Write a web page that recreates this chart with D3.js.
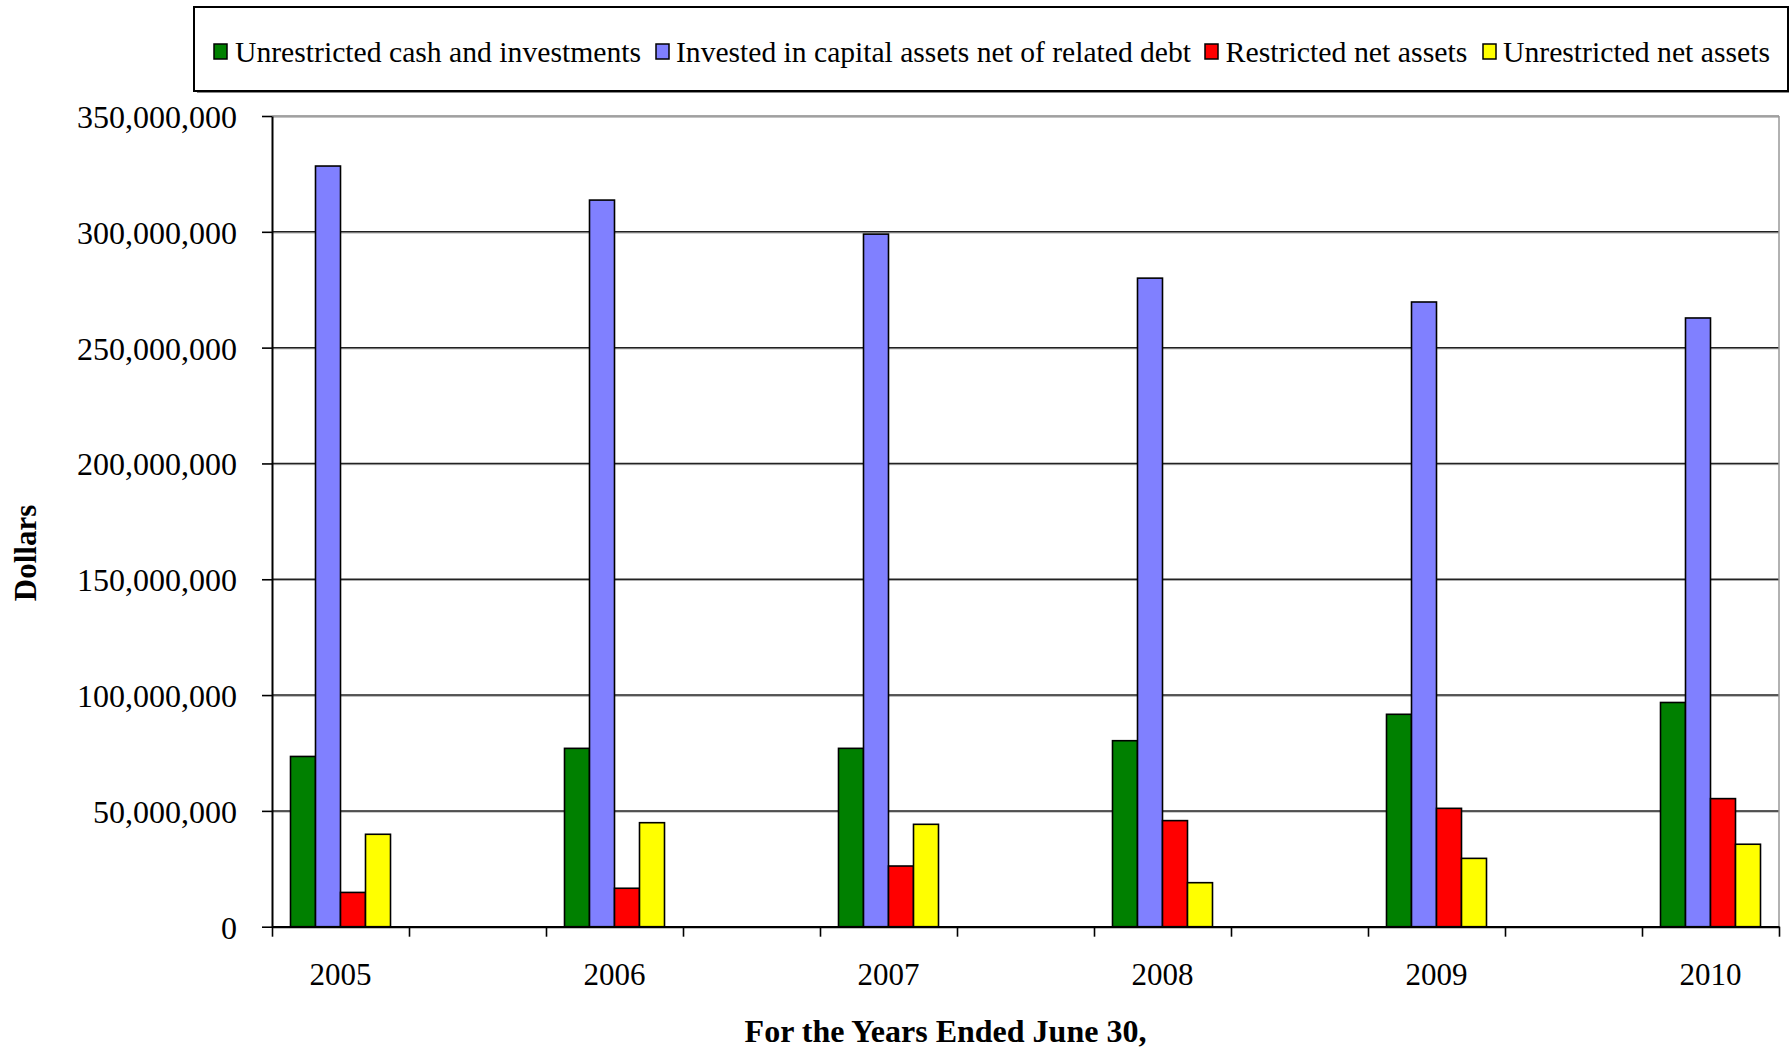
<!DOCTYPE html>
<html>
<head>
<meta charset="utf-8">
<script src="https://cdn.jsdelivr.net/npm/d3@7"></script>
<style>
  html, body { margin: 0; padding: 0; background: #fff; }
  svg { display: block; }
  text { font-family: "Liberation Serif", "Times New Roman", serif; fill: #000; }
</style>
</head>
<body>
<svg id="chart" width="1791" height="1051"></svg>
<script>
// Fiscal years (ended June 30)
const years = ["2005", "2006", "2007", "2008", "2009", "2010"];

// Series values in dollars
const unrestrictedCash   = [73500000, 77000000, 77000000, 80300000, 91700000, 96800000];
const investedCapital    = [328400000, 313700000, 299000000, 280000000, 269700000, 262800000];
const restrictedNet      = [14800000, 16600000, 26200000, 45800000, 51100000, 55300000];
const unrestrictedNet    = [39900000, 44900000, 44200000, 19000000, 29500000, 35600000];

const seriesNames = [
  "Unrestricted cash and investments",
  "Invested in capital assets net of related debt",
  "Restricted net assets",
  "Unrestricted net assets"
];
const seriesColors = ["#008000", "#8080ff", "#ff0000", "#ffff00"];
const seriesValues = [unrestrictedCash, investedCapital, restrictedNet, unrestrictedNet];

// Y axis tick values
const yTicks = [0, 50000000, 100000000, 150000000, 200000000, 250000000, 300000000, 350000000];

const svg = d3.select("#chart");
const plot = { left: 272, right: 1779, top: 116, bottom: 926.7 };

// Category slots: each year is followed by an empty slot
const slots = [];
years.forEach((y, i) => {
  slots.push(y);
  if (i < years.length - 1) slots.push("gap" + i);
});

const x = d3.scaleBand().domain(slots).range([plot.left, plot.right]).padding(0);
const xEdge = d3.scaleLinear().domain([0, slots.length]).range([plot.left, plot.right]);
const xSeries = d3.scaleBand().domain(d3.range(seriesNames.length))
  .range([0, x.bandwidth()]).paddingInner(0).paddingOuter(0.74);
const y = d3.scaleLinear().domain([0, 350000000]).range([plot.bottom, plot.top]);

// Gridlines (with a soft shadow line underneath)
const grid = svg.append("g");
yTicks.filter(v => v > 0).forEach(v => {
  grid.append("line")
    .attr("x1", plot.left).attr("x2", plot.right)
    .attr("y1", y(v) + 1.2).attr("y2", y(v) + 1.2)
    .attr("stroke", "#aaa").attr("stroke-width", 1);
  grid.append("line")
    .attr("x1", plot.left).attr("x2", plot.right)
    .attr("y1", y(v)).attr("y2", y(v))
    .attr("stroke", v === 350000000 ? "#888" : "#222").attr("stroke-width", 1.5);
});

// Right border of the plot area
svg.append("line")
  .attr("x1", plot.right).attr("x2", plot.right)
  .attr("y1", plot.top).attr("y2", plot.bottom)
  .attr("stroke", "#999").attr("stroke-width", 1.5);

// Bars
const rows = years.map((yr, i) => ({ year: yr, values: seriesValues.map(s => s[i]) }));
const groups = svg.append("g").selectAll("g").data(rows).join("g")
  .attr("transform", d => `translate(${x(d.year)},0)`);
groups.selectAll("rect")
  .data(d => d.values.map((v, k) => ({ v, k })))
  .join("rect")
  .attr("x", d => xSeries(d.k))
  .attr("width", xSeries.bandwidth())
  .attr("y", d => y(d.v))
  .attr("height", d => y(0) - y(d.v))
  .attr("fill", d => seriesColors[d.k])
  .attr("stroke", "#000")
  .attr("stroke-width", 1.6);

// Y axis
const yAxis = svg.append("g")
  .attr("transform", `translate(${plot.left},0)`)
  .call(d3.axisLeft(y).tickValues(yTicks).tickSize(10).tickSizeOuter(0)
    .tickFormat(d3.format(",")));
yAxis.select(".domain").attr("stroke", "#000").attr("stroke-width", 2);
yAxis.selectAll(".tick line").attr("stroke", "#000").attr("stroke-width", 1.6);
yAxis.selectAll(".tick text")
  .attr("x", -35)
  .attr("dy", "0.36em")
  .style("font-family", '"Liberation Serif", "Times New Roman", serif')
  .style("font-size", "32px")
  .attr("fill", "#000");

// X axis: tick marks at slot edges
const xAxis = svg.append("g")
  .attr("transform", `translate(0,${plot.bottom})`)
  .call(d3.axisBottom(xEdge).tickValues(d3.range(slots.length + 1)).tickSize(10)
    .tickSizeOuter(0).tickFormat(""));
xAxis.select(".domain").attr("stroke", "#000").attr("stroke-width", 2.2);
xAxis.selectAll(".tick line").attr("stroke", "#000").attr("stroke-width", 1.6);

// X axis: year labels centred under each group
const xLabels = svg.append("g")
  .attr("transform", `translate(0,${plot.bottom})`)
  .call(d3.axisBottom(x).tickValues(years).tickSize(0));
xLabels.select(".domain").remove();
xLabels.selectAll(".tick text")
  .attr("y", 47)
  .attr("dy", "0.36em")
  .style("font-family", '"Liberation Serif", "Times New Roman", serif')
  .style("font-size", "31px")
  .attr("fill", "#000");

// Axis titles
svg.append("text")
  .attr("x", (plot.left + plot.right) / 2 - 80)
  .attr("y", 1042)
  .attr("text-anchor", "middle")
  .style("font-size", "32px")
  .style("font-weight", "bold")
  .text("For the Years Ended June 30,");

svg.append("text")
  .attr("transform", "translate(36,553) rotate(-90)")
  .attr("text-anchor", "middle")
  .style("font-size", "31px")
  .style("font-weight", "bold")
  .text("Dollars");

// Legend
const legend = svg.append("g");
legend.append("rect")
  .attr("x", 197).attr("y", 10).attr("width", 1594 - 2).attr("height", 83)
  .attr("fill", "#888");
legend.append("rect")
  .attr("x", 194).attr("y", 7).attr("width", 1594).attr("height", 84)
  .attr("fill", "#fff").attr("stroke", "#000").attr("stroke-width", 2);

const legendItems = [
  { sx: 214, tx: 235, tw: 406 },
  { sx: 656, tx: 676, tw: 515 },
  { sx: 1205, tx: 1225.5, tw: 242 },
  { sx: 1483, tx: 1503, tw: 267 }
];
legendItems.forEach((it, k) => {
  legend.append("rect")
    .attr("x", it.sx).attr("y", 44).attr("width", 13).attr("height", 15)
    .attr("fill", seriesColors[k]).attr("stroke", "#000").attr("stroke-width", 1.5);
  legend.append("text")
    .attr("x", it.tx).attr("y", 62)
    .attr("textLength", it.tw)
    .attr("lengthAdjust", "spacingAndGlyphs")
    .style("font-size", "29px")
    .text(seriesNames[k]);
});
</script>
</body>
</html>
